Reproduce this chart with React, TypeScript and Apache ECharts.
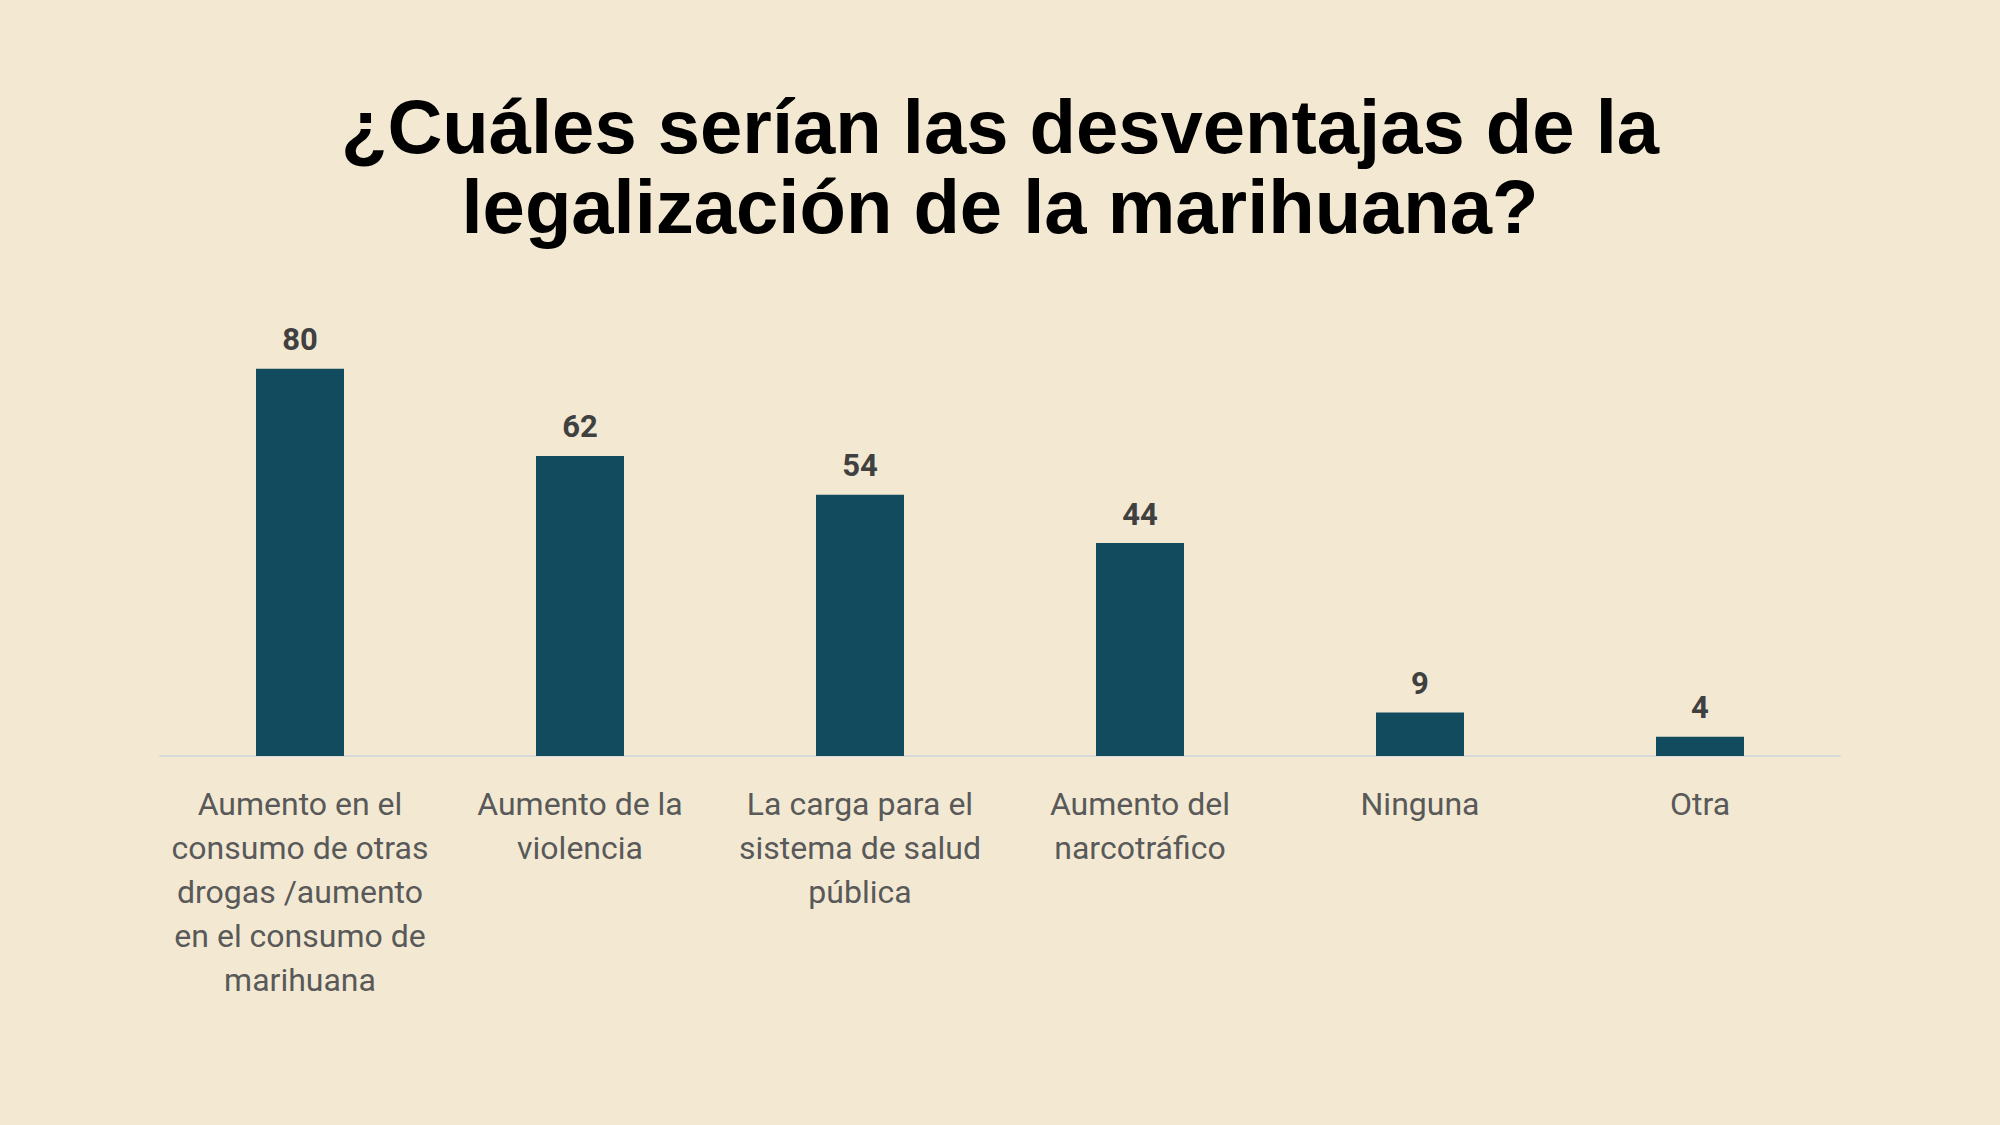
import React, { useEffect, useRef } from "react";
import * as echarts from "echarts";

const titleLines = ["¿Cuáles serían las desventajas de la", "legalización de la marihuana?"];
const categories = [
  "Aumento en el\nconsumo de otras\ndrogas /aumento\nen el consumo de\nmarihuana",
  "Aumento de la\nviolencia",
  "La carga para el\nsistema de salud\npública",
  "Aumento del\nnarcotráfico",
  "Ninguna",
  "Otra",
];
const values = [80, 62, 54, 44, 9, 4];

export default function App() {
  const ref = useRef<HTMLDivElement>(null);
  useEffect(() => {
    document.body.style.margin = "0";
    const chart = echarts.init(ref.current!, null, { renderer: "svg" });
    chart.setOption({
      animation: false,
      backgroundColor: "#F3E9D3",
      title: {
        text: titleLines.join("\n"),
        left: "center",
        top: 81,
        textStyle: {
          fontFamily: "Liberation Sans, Arial, sans-serif",
          fontWeight: "bold",
          fontSize: 76,
          lineHeight: 80,
          color: "#000000",
          align: "center",
        },
      },
      grid: { left: 160, right: 160, top: 272, bottom: 369 },
      xAxis: {
        type: "category",
        data: categories,
        axisTick: { show: false },
        axisLine: { show: true, lineStyle: { color: "#d9d9d9", width: 2 } },
        axisLabel: {
          interval: 0,
          margin: 26,
          fontFamily: "Roboto, sans-serif",
          fontSize: 32,
          lineHeight: 44,
          color: "#595959",
          align: "center",
        },
      },
      yAxis: {
        type: "value",
        min: 0,
        max: 100,
        show: false,
        splitLine: { show: false },
      },
      series: [
        {
          type: "bar",
          data: values,
          barWidth: 88,
          itemStyle: { color: "#124B5E" },
          label: {
            show: true,
            position: "top",
            distance: 14,
            fontFamily: "Roboto, sans-serif",
            fontWeight: "bold",
            fontSize: 31,
            lineHeight: 30,
            color: "#404040",
          },
        },
      ],
    });
    return () => chart.dispose();
  }, []);
  return <div ref={ref} style={{ width: 2000, height: 1125 }} />;
}
